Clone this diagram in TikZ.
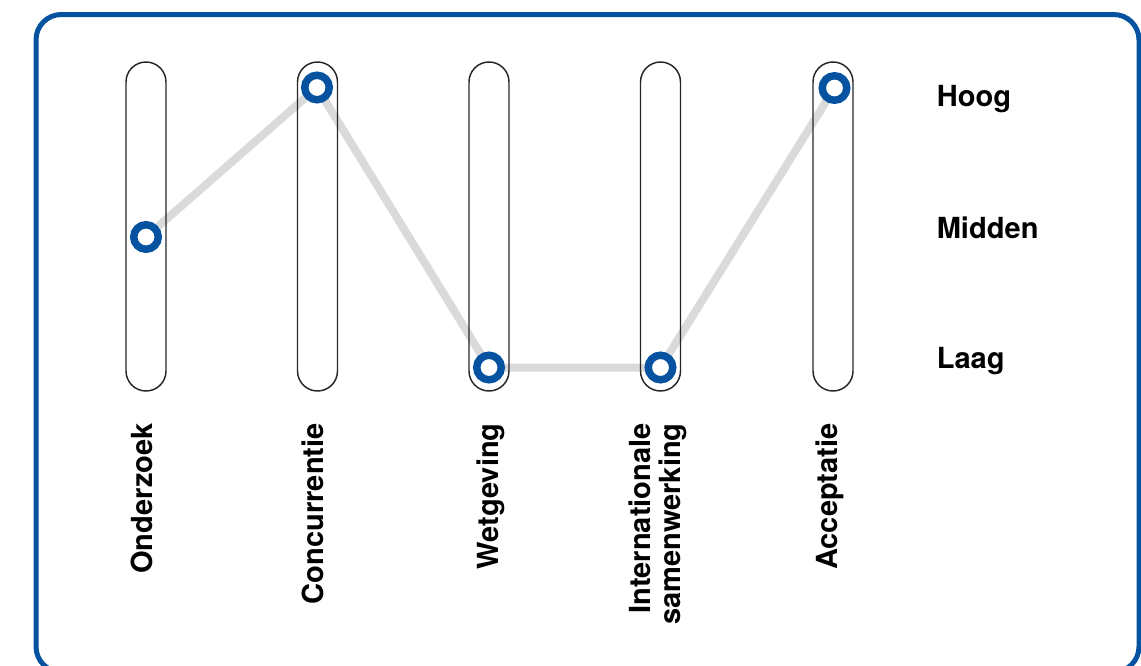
\documentclass[tikz,border=0pt]{standalone}
\usepackage{fontspec}
\setmainfont{TeX Gyre Heros}
\usetikzlibrary{positioning,backgrounds}
\definecolor{kaderblauw}{RGB}{4,82,160}
\definecolor{lijngrijs}{RGB}{218,218,218}

\begin{document}
\begin{tikzpicture}[x=0.75pt,y=-0.75pt,
    buis/.style={draw=black!85, line width=1.1pt, rectangle, rounded corners=15pt,
                 minimum width=30pt, minimum height=246.75pt},
    punt/.style={circle, draw=kaderblauw, fill=white, line width=5.6pt,
                 minimum size=18.4pt, inner sep=0pt},
    verbinding/.style={lijngrijs, line width=6pt, line join=round},
    niveau/.style={anchor=base west, inner sep=0pt, font=\fontsize{21.8}{22.5}\selectfont\bfseries},
    thema/.style={rotate=90, anchor=base east, inner sep=0pt, align=right,
                  font=\fontsize{21.8}{22.5}\selectfont\bfseries}]
    \useasboundingbox (0,0) rectangle (1141,665);
    \clip (0,0) rectangle (1141,665);
    % kader
    \draw [kaderblauw, line width=3.75pt, rounded corners=19pt] (36,14.5) rectangle (1139,672);
    % buizen
    \node [buis] at (146,226.5) (onderzoek) {};
    \node [buis] at (317.5,226.5) (concurrentie) {};
    \node [buis] at (489,226.5) (wetgeving) {};
    \node [buis] at (660.5,226.5) (samenwerking) {};
    \node [buis] at (833,226.5) (acceptatie) {};
    % scores
    \node [punt] at (146,237) (p1) {};
    \node [punt] at (317,87.5) (p2) {};
    \node [punt] at (489,367.5) (p3) {};
    \node [punt] at (660.5,367.5) (p4) {};
    \node [punt] at (834.5,88) (p5) {};
    \begin{scope}[on background layer]
        \draw [verbinding] (p1.center) -- (p2.center) -- (p3.center) -- (p4.center) -- (p5.center);
    \end{scope}
    % niveaus
    \node [niveau] at (936.5,106.7) (hoog) {Hoog};
    \node [niveau] at (936.5,238.3) (midden) {Midden};
    \node [niveau] at (936.5,368.3) (laag) {Laag};
    % thema's
    \node [thema] at (152.7,423) (t1) {Onderzoek};
    \node [thema] at (323.5,423) (t2) {Concurrentie};
    \node [thema] at (498,423) (t3) {Wetgeving};
    \node [thema, anchor=east] at (658,423) (t4) {Internationale\\samenwerking};
    \node [thema] at (837,423) (t5) {Acceptatie};
\end{tikzpicture}
\end{document}
